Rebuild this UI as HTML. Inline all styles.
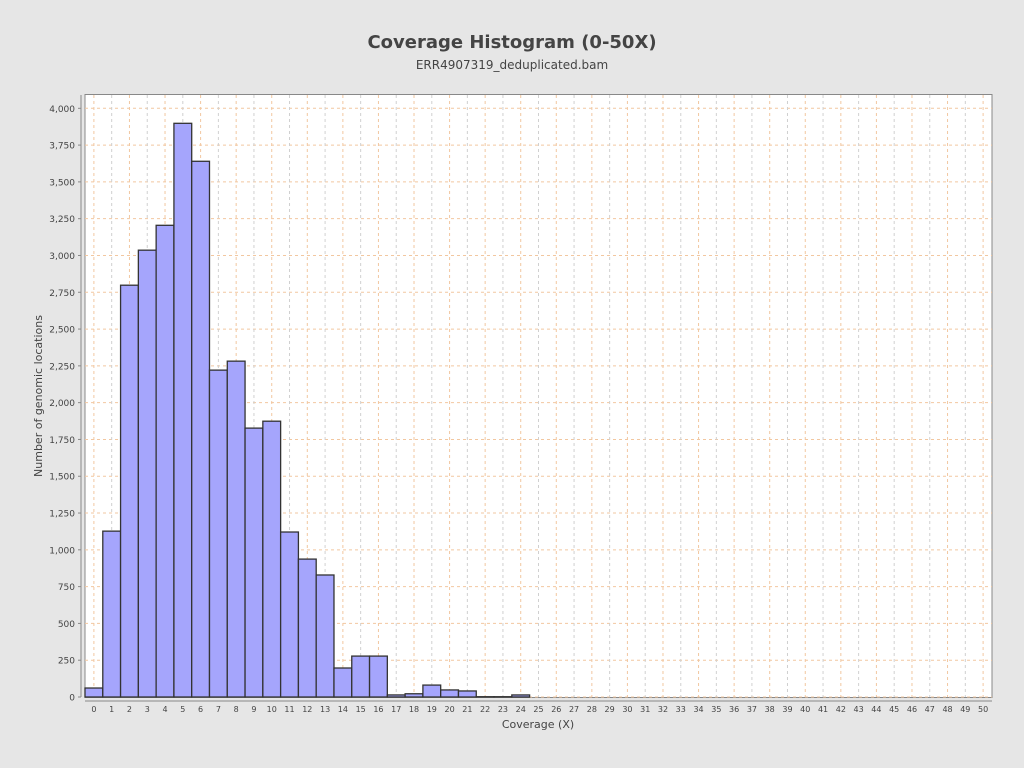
<!DOCTYPE html>
<html><head><meta charset="utf-8"><style>
body{margin:0;background:#e6e6e6;font-family:"DejaVu Sans","Liberation Sans",sans-serif;}
svg{display:block}
</style></head><body>
<svg id="chart" width="1024" height="768">
<rect width="1024" height="768" fill="#e6e6e6"/>
<text x="512" y="48" text-anchor="middle" font-size="18" font-weight="bold" fill="#444">Coverage Histogram (0-50X)</text>
<text x="512" y="69" text-anchor="middle" font-size="12" fill="#444">ERR4907319_deduplicated.bam</text>
<rect x="85" y="94.5" width="907" height="603" fill="#fff" stroke="#888"/>
<g id="grid"></g><g id="bars"></g><g id="axes"></g>
<text x="538" y="728" text-anchor="middle" font-size="11" fill="#444">Coverage (X)</text>
<text transform="translate(42,396) rotate(-90)" text-anchor="middle" font-size="11" fill="#444">Number of genomic locations</text>
</svg>
<script>
const categories=[];for(let i=0;i<=50;i++)categories.push(i);
const counts=[61,1127,2798,3036,3205,3898,3640,2221,2282,1827,1874,1121,937,829,197,278,278,14,22,81,48,41,2,2,14,0,0,0,0,0,0,0,0,0,0,0,0,0,0,0,0,0,0,0,0,0,0,0,0,0,0];
const yTicks=[0,250,500,750,1000,1250,1500,1750,2000,2250,2500,2750,3000,3250,3500,3750,4000];
const NS="http://www.w3.org/2000/svg";
const x0=85,x1=992,yb=697,yt=108.3;
const step=(x1-x0)/categories.length;
const xc=i=>x0+step*(i+0.5);
const y=v=>yb-(v/4000)*(yb-yt);
function mk(t,a,p){const e=document.createElementNS(NS,t);for(const k in a)e.setAttribute(k,a[k]);p.appendChild(e);return e;}
const grid=document.getElementById('grid'),bars=document.getElementById('bars'),axes=document.getElementById('axes');
yTicks.forEach(v=>{
 const l=mk('line',{x1:x0,x2:x1,y1:y(v),y2:y(v),stroke:'#f2c7a0','stroke-dasharray':'3,3','stroke-width':1},grid);
 
 
 const t=mk('line',{x1:78,x2:81,y1:y(v),y2:y(v),stroke:'#888'},axes);
 
 
 const tx=mk('text',{x:75,y:y(v)+3.5,'text-anchor':'end','font-size':9,fill:'#444'},axes);
 tx.textContent=v.toLocaleString('en-US');
 
 
});
categories.forEach((c,i)=>{
 const l=mk('line',{x1:xc(i),x2:xc(i),y1:95,y2:yb,stroke:i%2?'#d0d0d0':'#f2c7a0','stroke-dasharray':'3,3'},grid);
 
 
 const tx=mk('text',{x:xc(i),y:712,'text-anchor':'middle','font-size':8,fill:'#444'},axes);
 tx.textContent=c;
 
 
});
mk('line',{x1:81,x2:81,y1:95,y2:yb,stroke:'#888'},axes);
mk('line',{x1:x0,x2:x1,y1:701,y2:701,stroke:'#888'},axes);
counts.forEach((v,i)=>{
 if(v<=0)return;
 const r=mk('rect',{x:x0+step*i,y:y(v),width:step,height:yb-y(v),fill:'#a5a5fc',stroke:'#333','stroke-width':1.3},bars);
 
 
});
</script>
</body></html>
